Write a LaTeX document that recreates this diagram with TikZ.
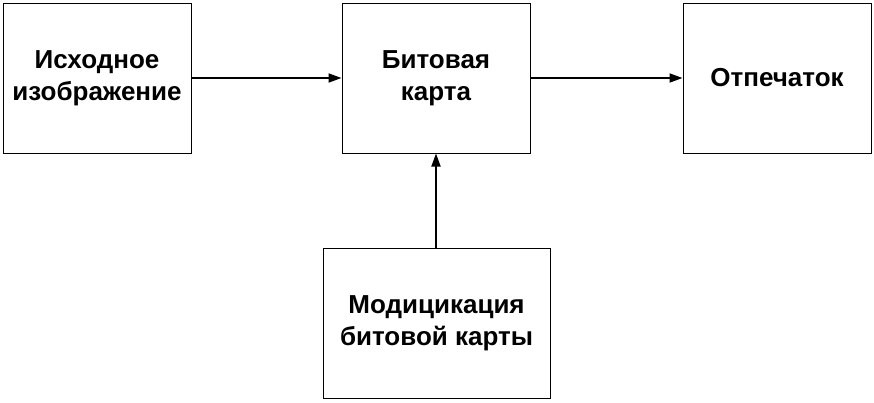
\documentclass[tikz,border=0pt]{standalone}
\usepackage{fontspec}
\setmainfont{Liberation Sans}
\usetikzlibrary{arrows.meta}
\begin{document}
\begin{tikzpicture}[x=1pt,y=-1pt,
  box/.style={draw,line width=1pt,inner sep=0pt,align=center,
    font=\fontsize{26}{32}\selectfont\bfseries},
  conn/.style={line width=1.8pt,-{Triangle[length=13pt,width=9pt]}}]
\useasboundingbox (0,0) rectangle (874,402);
\node[box,minimum width=188pt,minimum height=150pt] (src) at (97,78) {Исходное\\изображение};
\node[box,minimum width=188pt,minimum height=150pt] (bmp) at (436,78) {Битовая\\карта};
\node[box,minimum width=188pt,minimum height=150pt] (prn) at (777,78) {Отпечаток};
\node[box,minimum width=227pt,minimum height=150pt] (mod) at (436.5,323) {Модицикация\\битовой карты};
\draw[conn] (src.east) -- (bmp.west);
\draw[conn] (bmp.east) -- (prn.west);
\draw[conn] (mod.north -| bmp.south) -- (bmp.south);
\end{tikzpicture}
\end{document}
